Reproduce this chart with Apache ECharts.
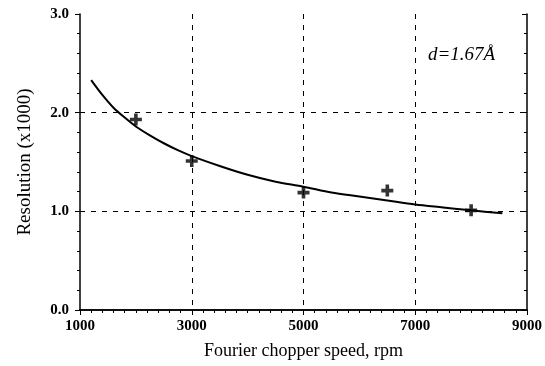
<!DOCTYPE html>
<html><head><meta charset="utf-8">
<script src="https://cdn.jsdelivr.net/npm/echarts@6/dist/echarts.min.js"></script>
<style>html,body{margin:0;padding:0;background:#fff}#c{width:545px;height:366px}</style>
</head><body><div id="c"></div>
<script>
var xTicks = [1000, 3000, 5000, 7000, 9000];
var yTicks = ['0.0', '1.0', '2.0', '3.0'];
var measuredX = [2000, 3000, 5000, 6500, 8000];
var measuredY = [1.93, 1.51, 1.19, 1.21, 1.01];
var curveX = [1200, 1400, 1600, 1800, 2000, 2250, 2500, 2750, 3000, 3500, 4000, 4500, 5000, 5500, 6000, 6500, 7000, 7500, 8000, 8560];
var curveY = [2.33, 2.18, 2.05, 1.95, 1.86, 1.77, 1.69, 1.62, 1.56, 1.46, 1.37, 1.30, 1.25, 1.19, 1.15, 1.11, 1.07, 1.04, 1.01, 0.98];
var annotation = 'd=1.67\u00C5';

var FONT = '"Liberation Serif", "DejaVu Serif", serif';
var chart = echarts.init(document.getElementById('c'));
function pairs(xs, ys){ return xs.map(function(x,i){return [x, ys[i]];}); }
var plus = 'path://M3.5,0H6.5V3.5H10V6.5H6.5V10H3.5V6.5H0V3.5H3.5Z';
var commonX = {type:'value', min:1000, max:9000, interval:2000, minorTick:{show:true, splitNumber:10, length:3, lineStyle:{color:'#000'}}};
var commonY = {type:'value', min:0, max:3, interval:1, minorTick:{show:true, splitNumber:5, length:3, lineStyle:{color:'#000'}}};
chart.setOption({
  animation:false,
  backgroundColor:'#fff',
  grid:{left:80, right:16, top:14, bottom:56, containLabel:false},
  xAxis:[
    Object.assign({}, commonX, {position:'bottom',
      name:'Fourier chopper speed, rpm', nameLocation:'middle', nameGap:32,
      nameTextStyle:{fontFamily:FONT, fontSize:18, color:'#000'},
      axisLine:{show:true, lineStyle:{color:'#000', width:1.5}},
      axisTick:{show:true, inside:false, length:5, lineStyle:{color:'#000'}},
      axisLabel:{fontFamily:FONT, fontSize:15, fontWeight:'bold', color:'#000', margin:9,
        formatter:function(v){ return xTicks.indexOf(v) >= 0 ? String(v) : ''; }},
      splitLine:{show:true, showMinLine:false, showMaxLine:false, lineStyle:{color:'#000', type:[5,6], width:1}}
    }),
    Object.assign({}, commonX, {position:'top',
      axisLine:{show:true, lineStyle:{color:'#000', width:1.5}},
      axisTick:{show:true, inside:true, length:5, lineStyle:{color:'#000'}},
      axisLabel:{show:false}, splitLine:{show:false}
    })
  ],
  yAxis:[
    Object.assign({}, commonY, {position:'left',
      name:'Resolution (x1000)', nameLocation:'middle', nameGap:45,
      nameTextStyle:{fontFamily:FONT, fontSize:19, color:'#000'},
      axisLine:{show:true, lineStyle:{color:'#000', width:1.5}},
      axisTick:{show:true, inside:false, length:5, lineStyle:{color:'#000'}},
      axisLabel:{fontFamily:FONT, fontSize:15, fontWeight:'bold', color:'#000', margin:11,
        formatter:function(v){ return yTicks[Math.round(v)]; }},
      splitLine:{show:true, showMinLine:false, showMaxLine:false, lineStyle:{color:'#000', type:[5,6], width:1}}
    }),
    Object.assign({}, commonY, {position:'right',
      axisLine:{show:true, lineStyle:{color:'#000', width:1.5}},
      axisTick:{show:true, inside:true, length:5, lineStyle:{color:'#000'}},
      axisLabel:{show:false}, splitLine:{show:false}
    })
  ],
  series:[
    {type:'line', data:pairs(curveX, curveY), smooth:0.3, showSymbol:false, symbol:'none',
      lineStyle:{color:'#000', width:2}, xAxisIndex:0, yAxisIndex:0, z:3},
    {type:'scatter', data:pairs(measuredX, measuredY), symbol:plus, symbolSize:12,
      itemStyle:{color:'#000'}, xAxisIndex:0, yAxisIndex:0, z:4}
  ],
  graphic:[{type:'text', left:428, top:45,
    style:{text:annotation, fontFamily:FONT, fontSize:19, fontStyle:'italic', fill:'#000'}}]
});
</script></body></html>
